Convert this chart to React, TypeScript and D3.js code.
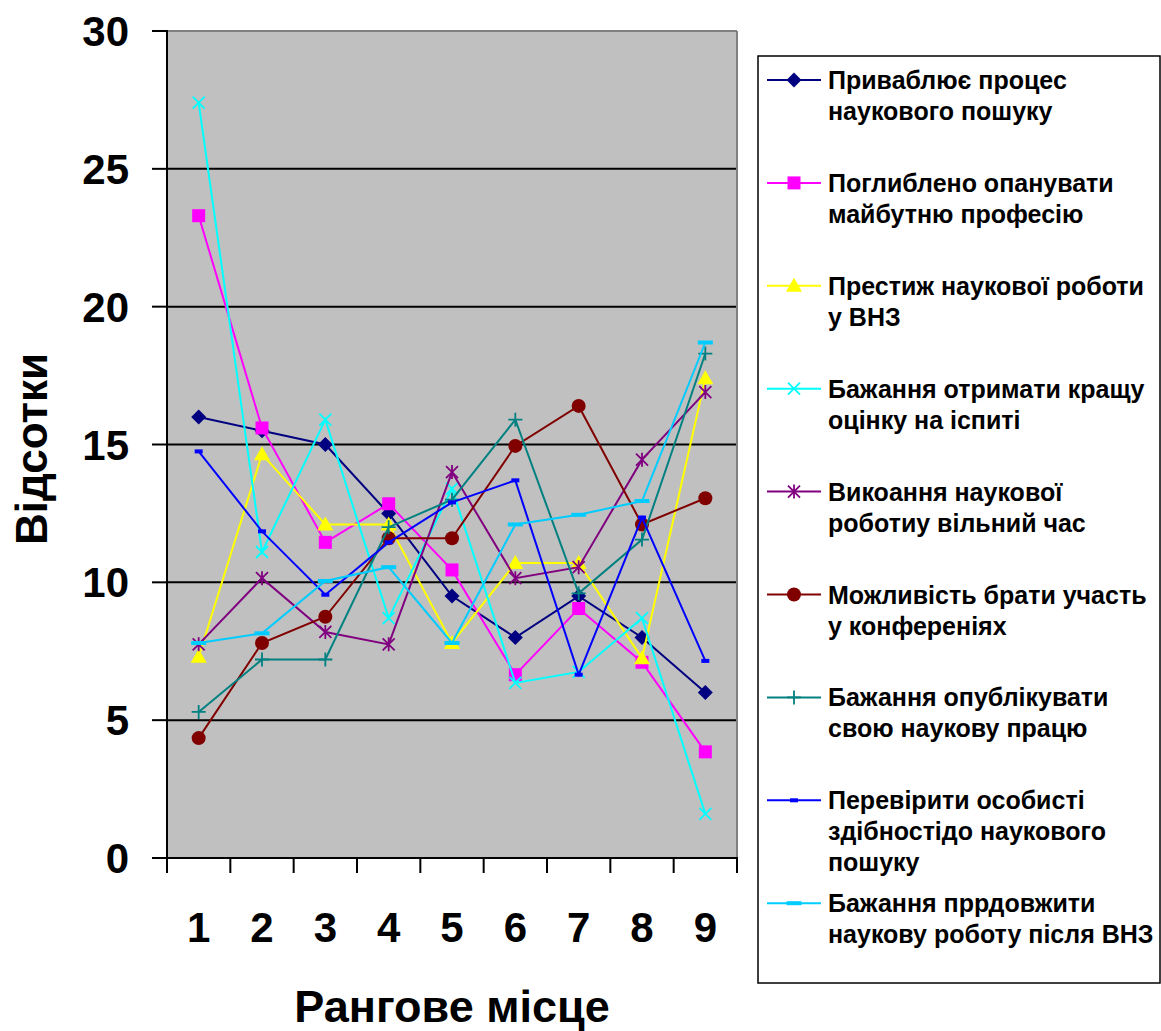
import React from "react";
import * as d3 from "d3";

const categories = ["1", "2", "3", "4", "5", "6", "7", "8", "9"];
const yTicks = [0, 5, 10, 15, 20, 25, 30];

const s1 = [16.0, 15.5, 15.0, 12.5, 9.5, 8.0, 9.5, 8.0, 6.0];
const s2 = [23.3, 15.6, 11.45, 12.85, 10.45, 6.65, 9.05, 7.1, 3.85];
const s3 = [7.3, 14.65, 12.1, 12.1, 7.8, 10.7, 10.7, 7.25, 17.4];
const s4 = [27.4, 11.1, 15.9, 8.7, 13.4, 6.35, 6.75, 8.7, 1.6];
const s5 = [7.75, 10.15, 8.2, 7.75, 14.0, 10.15, 10.55, 14.45, 16.9];
const s6 = [4.35, 7.8, 8.75, 11.6, 11.6, 14.95, 16.4, 12.1, 13.05];
const s7 = [5.3, 7.2, 7.2, 12.0, 13.0, 15.9, 9.6, 11.55, 18.3];
const s8 = [14.75, 11.85, 9.55, 11.45, 12.9, 13.7, 6.65, 12.35, 7.15];
const s9 = [7.8, 8.15, 10.05, 10.55, 7.8, 12.1, 12.45, 12.95, 18.7];

const seriesNames: string[][] = [
  ["Приваблює процес", "наукового пошуку"],
  ["Поглиблено опанувати", "майбутню професію"],
  ["Престиж наукової роботи", "у ВНЗ"],
  ["Бажання отримати кращу", "оцінку на іспиті"],
  ["Викоання наукової", "роботиу вільний час"],
  ["Можливість брати участь", "у конференіях"],
  ["Бажання опублікувати", "свою наукову працю"],
  ["Перевірити особисті", "здібностідо наукового", "пошуку"],
  ["Бажання пррдовжити", "наукову роботу після ВНЗ"],
];

const seriesValues = [s1, s2, s3, s4, s5, s6, s7, s8, s9];
const colors = ["#000080", "#FF00FF", "#FFFF00", "#00FFFF", "#800080", "#800000", "#008080", "#0000FF", "#00CCFF"];
const markers = ["diamond", "square", "triangle", "x", "star", "circle", "plus", "dash", "wdash"];

const FONT = "'Liberation Sans', Arial, sans-serif";

function Marker({ type, color, x, y }: { type: string; color: string; x: number; y: number }) {
  const t = `translate(${x},${y})`;
  switch (type) {
    case "diamond":
      return <path transform={t} d="M0,-7.5L7.5,0L0,7.5L-7.5,0Z" fill={color} />;
    case "square":
      return <rect transform={t} x={-6.5} y={-6.5} width={13} height={13} fill={color} />;
    case "triangle":
      return <path transform={t} d="M0,-8L8,6L-8,6Z" fill={color} />;
    case "x":
      return <path transform={t} d="M-6,-6L6,6M6,-6L-6,6" stroke={color} strokeWidth={1.8} fill="none" />;
    case "star":
      return <path transform={t} d="M-6,-6L6,6M6,-6L-6,6M0,-7L0,7" stroke={color} strokeWidth={1.8} fill="none" />;
    case "circle":
      return <circle transform={t} r={7} fill={color} />;
    case "plus":
      return <path transform={t} d="M-7,0L7,0M0,-7L0,7" stroke={color} strokeWidth={1.8} fill="none" />;
    case "dash":
      return <rect transform={t} x={-4} y={-2} width={8} height={4} fill={color} />;
    case "wdash":
      return <rect transform={t} x={-7.5} y={-2} width={15} height={4} fill={color} />;
    default:
      return null;
  }
}

export default function App() {
  const W = 1161;
  const H = 1031;
  const left = 167;
  const right = 737;
  const top = 31;
  const bottom = 858;

  const x = d3.scalePoint<string>().domain(categories).range([left, right]).padding(0.5);
  const y = d3.scaleLinear().domain([0, 30]).range([bottom, top]);
  const step = x.step();

  const line = d3
    .line<number>()
    .x((_, i) => x(categories[i]) as number)
    .y((d) => y(d));

  const legendX0 = 767;
  const legendX1 = 821;
  const legendTextX = 828;
  const legendY0 = 80;
  const legendStep = 102.9;
  const lineH = 31;

  return (
    <svg width={W} height={H} style={{ position: "absolute", left: 0, top: 0, background: "#fff" }} fontFamily={FONT}>
      {/* plot background */}
      <rect x={left} y={top} width={right - left} height={bottom - top} fill="#C0C0C0" />
      {/* gridlines */}
      {yTicks
        .filter((t) => t > 0 && t < 30)
        .map((t) => (
          <line key={t} x1={left} x2={right} y1={y(t)} y2={y(t)} stroke="#000" strokeWidth={2} />
        ))}
      {/* top and right border */}
      <line x1={left} x2={right} y1={top} y2={top} stroke="#808080" strokeWidth={2} />
      <line x1={right} x2={right} y1={top} y2={bottom} stroke="#808080" strokeWidth={2} />

      {/* axes */}
      <line x1={left} x2={left} y1={top - 1} y2={bottom + 1} stroke="#000" strokeWidth={2} />
      <line x1={left - 15} x2={right + 1} y1={bottom} y2={bottom} stroke="#000" strokeWidth={2} />
      {yTicks.map((t) => (
        <g key={t}>
          <line x1={left - 15} x2={left} y1={y(t)} y2={y(t)} stroke="#000" strokeWidth={2} />
          <text x={129} y={y(t)} dy="0.36em" textAnchor="end" fontSize={42} fontWeight="bold">
            {t}
          </text>
        </g>
      ))}
      {d3.range(categories.length + 1).map((i) => (
        <line key={i} x1={left + i * step} x2={left + i * step} y1={bottom} y2={bottom + 15} stroke="#000" strokeWidth={2} />
      ))}
      {categories.map((c) => (
        <text key={c} x={x(c) as number} y={942} textAnchor="middle" fontSize={42} fontWeight="bold">
          {c}
        </text>
      ))}

      {/* axis titles */}
      <text x={452} y={1022} textAnchor="middle" fontSize={45} fontWeight="bold">
        Рангове місце
      </text>
      <text transform="translate(47,449) rotate(-90)" textAnchor="middle" fontSize={44} fontWeight="bold">
        Відсотки
      </text>

      {/* series */}
      {seriesValues.map((vals, si) => (
        <g key={si}>
          <path d={line(vals) as string} fill="none" stroke={colors[si]} strokeWidth={2} />
          {vals.map((v, i) => (
            <Marker key={i} type={markers[si]} color={colors[si]} x={x(categories[i]) as number} y={y(v)} />
          ))}
        </g>
      ))}

      {/* legend */}
      <rect x={758} y={56} width={402} height={927} fill="#fff" stroke="#000" strokeWidth={1.5} />
      {seriesNames.map((lines, si) => {
        const ly = legendY0 + si * legendStep;
        return (
          <g key={si}>
            <line x1={legendX0} x2={legendX1} y1={ly} y2={ly} stroke={colors[si]} strokeWidth={2} />
            <Marker type={markers[si]} color={colors[si]} x={(legendX0 + legendX1) / 2} y={ly} />
            {lines.map((ln, li) => (
              <text key={li} x={legendTextX} y={ly + 9 + li * lineH} fontSize={25} fontWeight="bold">
                {ln}
              </text>
            ))}
          </g>
        );
      })}
    </svg>
  );
}
